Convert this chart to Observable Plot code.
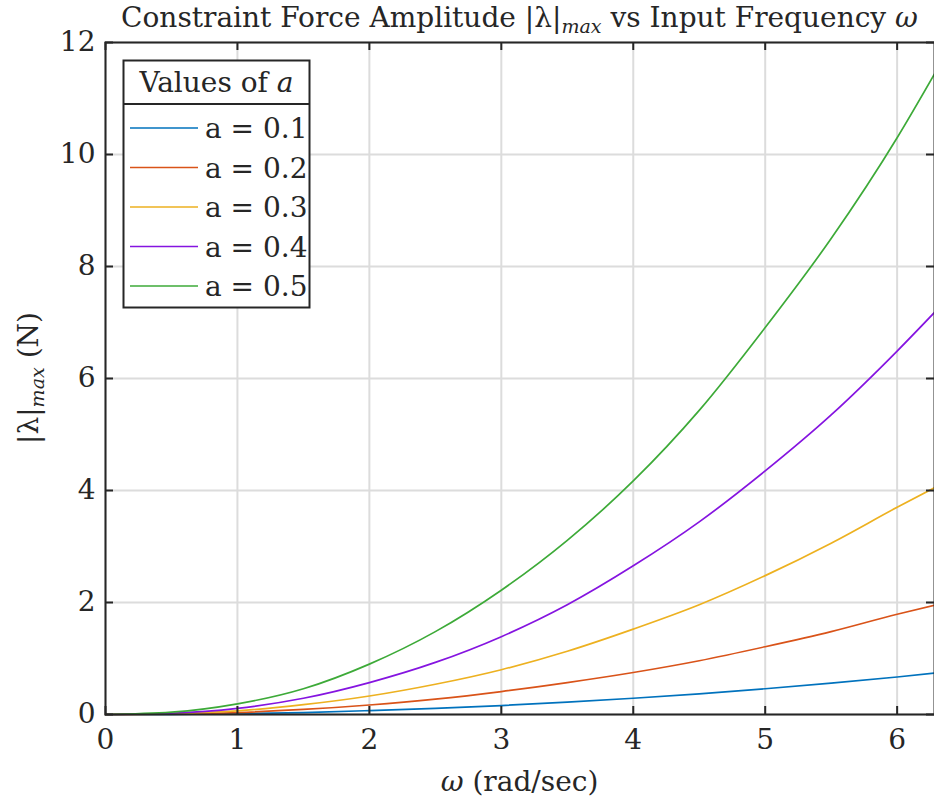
<!DOCTYPE html>
<html><head><meta charset="utf-8">
<script src="https://cdn.jsdelivr.net/npm/d3@7"></script>
<script src="https://cdn.jsdelivr.net/npm/@observablehq/plot@0.6"></script>
<style>body{margin:0;background:#fff}</style>
</head><body><div id="chart"></div>
<script>
// ---- data ----
const omega = [0, 0.5, 1, 1.5, 2, 2.5, 3, 3.5, 4, 4.5, 5, 5.5, 6, 6.2832];
const seriesLabels = ["a = 0.1", "a = 0.2", "a = 0.3", "a = 0.4", "a = 0.5"];
const lamA01 = [0, 0.004, 0.015, 0.035, 0.07, 0.11, 0.16, 0.22, 0.29, 0.37, 0.46, 0.56, 0.67, 0.74];
const lamA02 = [0, 0.008, 0.035, 0.09, 0.17, 0.275, 0.41, 0.57, 0.75, 0.96, 1.21, 1.48, 1.79, 1.95];
const lamA03 = [0, 0.015, 0.065, 0.175, 0.33, 0.54, 0.80, 1.13, 1.525, 1.96, 2.48, 3.06, 3.70, 4.05];
const lamA04 = [0, 0.0225, 0.11, 0.29, 0.57, 0.93, 1.39, 1.96, 2.655, 3.44, 4.35, 5.35, 6.49, 7.18];
const lamA05 = [0, 0.042, 0.19, 0.46, 0.90, 1.48, 2.22, 3.11, 4.17, 5.43, 6.91, 8.50, 10.30, 11.44];
const seriesColors = ["#0072BD", "#D95319", "#EDB120", "#8514E0", "#3DAA38"];
const xTicks = [0, 1, 2, 3, 4, 5, 6];
const yTicks = [0, 2, 4, 6, 8, 10, 12];
const xDomain = [0, 6.2832];
const yDomain = [0, 12];

const allSeries = [lamA01, lamA02, lamA03, lamA04, lamA05];
const rows = [];
allSeries.forEach((vals, i) => vals.forEach((v, j) => rows.push({w: omega[j], lam: v, a: seriesLabels[i]})));

const W = 934, H = 804, mL = 105, mR = 0, mT = 42, mB = 90;
const pw = W - mL - mR, ph = H - mT - mB;
const FONT = "'DejaVu Serif', 'Liberation Serif', serif";
const INK = "#262626";
const FS = 28;

const chart = Plot.plot({
  width: W, height: H,
  marginLeft: mL, marginRight: mR, marginTop: mT, marginBottom: mB,
  style: {fontFamily: FONT, background: "#fff", overflow: "visible", color: INK},
  x: {domain: xDomain},
  y: {domain: yDomain},
  color: {domain: seriesLabels, range: seriesColors},
  marks: [
    Plot.gridX(xTicks, {stroke: "#dcdcdc", strokeOpacity: 1, strokeWidth: 2}),
    Plot.gridY(yTicks, {stroke: "#dcdcdc", strokeOpacity: 1, strokeWidth: 2}),
    Plot.line(rows, {x: "w", y: "lam", z: "a", stroke: "a", curve: "monotone-x", strokeWidth: 1.7}),
    Plot.frame({stroke: INK, strokeWidth: 2}),
    Plot.tickX(xTicks, {x: d => d, insetTop: ph - 8, stroke: INK, strokeWidth: 2}),
    Plot.tickX(xTicks, {x: d => d, insetBottom: ph - 8, stroke: INK, strokeWidth: 2}),
    Plot.tickY(yTicks, {y: d => d, insetRight: pw - 8, stroke: INK, strokeWidth: 2}),
    Plot.tickY(yTicks, {y: d => d, insetLeft: pw - 8, stroke: INK, strokeWidth: 2}),
    Plot.axisX(xTicks, {tickSize: 0, tickPadding: 15, fontSize: FS, tickFormat: d => String(d), label: null, fill: INK}),
    Plot.axisY(yTicks, {tickSize: 0, tickPadding: 10, fontSize: FS, tickFormat: d => String(d), label: null, fill: INK})
  ]
});
document.getElementById("chart").appendChild(chart);

const svg = d3.select(chart);

// helper: rich text from parts [{t, italic, sub}]
function rich(g, parts, attrs) {
  const t = g.append("text").attr("font-family", FONT).attr("fill", INK);
  Object.entries(attrs).forEach(([k, v]) => t.attr(k, v));
  let inSub = false;
  parts.forEach(p => {
    const s = t.append("tspan").text(p.t);
    if (p.italic) s.attr("font-style", "italic");
    if (p.sub && !inSub) { s.attr("dy", "0.3em").attr("font-size", "0.68em"); inSub = true; }
    else if (!p.sub && inSub) { s.attr("dy", "-0.2em"); inSub = false; }
    else if (p.sub) s.attr("font-size", "0.68em");
  });
  return t;
}

const cx = mL + pw / 2;
// title
rich(svg, [
  {t: "Constraint Force Amplitude |λ|"},
  {t: "max", italic: true, sub: true},
  {t: " vs Input Frequency "},
  {t: "ω", italic: true}
], {x: cx, y: 27, "text-anchor": "middle", "font-size": FS});

// x label
rich(svg, [{t: "ω", italic: true}, {t: " (rad/sec)"}],
  {x: cx, y: 791, "text-anchor": "middle", "font-size": FS});

// y label
rich(svg, [{t: "|λ|"}, {t: "max", italic: true, sub: true}, {t: " (N)"}],
  {transform: `translate(38,${mT + ph / 2}) rotate(-90)`, "text-anchor": "middle", "font-size": FS});

// legend
const lg = svg.append("g");
lg.append("rect").attr("x", 123.5).attr("y", 60.5).attr("width", 186).attr("height", 247)
  .attr("fill", "#fff").attr("stroke", INK).attr("stroke-width", 2);
lg.append("line").attr("x1", 123.5).attr("x2", 309.5).attr("y1", 104).attr("y2", 104)
  .attr("stroke", INK).attr("stroke-width", 2);
rich(lg, [{t: "Values of "}, {t: "a", italic: true}],
  {x: 216.5, y: 92, "text-anchor": "middle", "font-size": FS});
seriesLabels.forEach((lab, i) => {
  const y = 128 + i * 39.5;
  lg.append("line").attr("x1", 130).attr("x2", 198).attr("y1", y).attr("y2", y)
    .attr("stroke", seriesColors[i]).attr("stroke-width", 1.7);
  lg.append("text").attr("x", 205).attr("y", y + 10).attr("font-family", FONT)
    .attr("text-anchor", "start")
    .attr("font-size", FS).attr("fill", INK).text(lab);
});
</script>
</body></html>
